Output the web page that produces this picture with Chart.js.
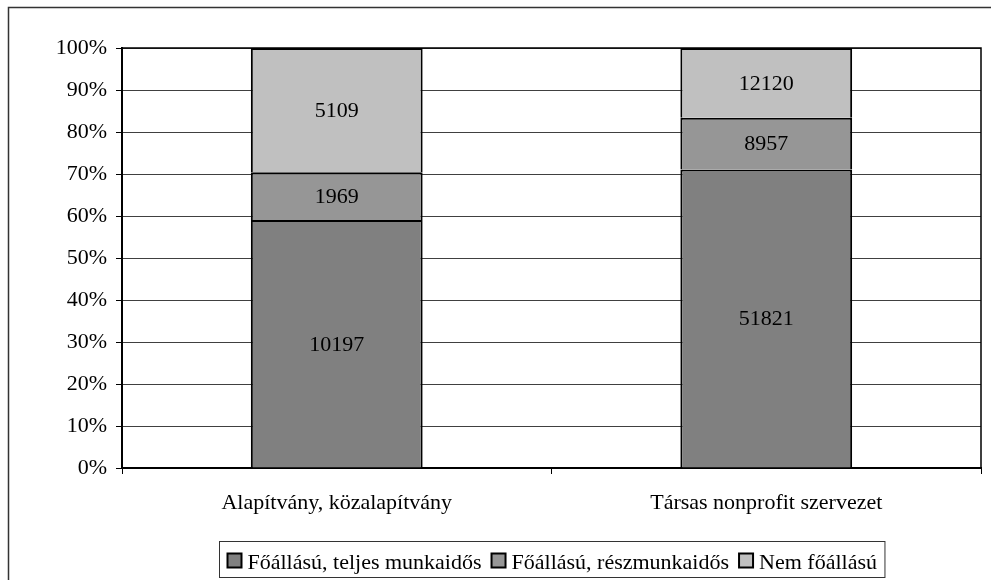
<!DOCTYPE html>
<html>
<head>
<meta charset="utf-8">
<script src="https://cdn.jsdelivr.net/npm/chart.js@4.4.1/dist/chart.umd.min.js"></script>
<style>
  html, body { margin: 0; padding: 0; background: #fff; }
  #wrap { width: 991px; height: 580px; }
</style>
</head>
<body>
<div id="wrap"><canvas id="c" width="991" height="580"></canvas></div>
<script>
const categories = ['Alapítvány, közalapítvány', 'Társas nonprofit szervezet'];
const seriesNames = ['Főállású, teljes munkaidős', 'Főállású, részmunkaidős', 'Nem főállású'];
const fullTime = [10197, 51821];
const partTime = [1969, 8957];
const notMain = [5109, 12120];
const seriesColors = ['#808080', '#969696', '#C0C0C0'];
const yTicks = [0, 10, 20, 30, 40, 50, 60, 70, 80, 90, 100];

const raw = [fullTime, partTime, notMain];
const totals = categories.map((_, i) => raw.reduce((s, arr) => s + arr[i], 0));
const pct = raw.map(arr => arr.map((v, i) => v / totals[i] * 100));

const FONT = '"Liberation Serif", "Times New Roman", serif';
const FS = 22;

const pagePlugin = {
  id: 'page',
  beforeDraw(chart) {
    const ctx = chart.ctx;
    ctx.save();
    ctx.fillStyle = '#fff';
    ctx.fillRect(0, 0, chart.width, chart.height);
    ctx.strokeStyle = '#333';
    ctx.lineWidth = 1.5;
    ctx.strokeRect(8.5, 7.5, 1200, 800);
    ctx.restore();
  },
  afterDatasetsDraw(chart) {
    const ctx = chart.ctx;
    const a = chart.chartArea;
    ctx.save();
    ctx.strokeStyle = '#000';
    ctx.lineWidth = 1.5;
    ctx.beginPath();
    ctx.moveTo(a.left, a.top);
    ctx.lineTo(a.right, a.top);
    ctx.lineTo(a.right, a.bottom);
    ctx.stroke();
    ctx.fillStyle = '#000';
    ctx.font = FS + 'px ' + FONT;
    ctx.textAlign = 'center';
    ctx.textBaseline = 'middle';
    chart.data.datasets.forEach((ds, di) => {
      const meta = chart.getDatasetMeta(di);
      meta.data.forEach((bar, i) => {
        const p = bar.getProps(['x', 'y', 'base'], true);
        ctx.fillText(String(raw[di][i]), p.x, (p.y + p.base) / 2 + 1);
      });
    });
    ctx.font = FS + 'px ' + FONT;
    ctx.textAlign = 'left';
    ctx.textBaseline = 'alphabetic';
    const box = 14, gapBoxText = 6, gapItems = 10, padX = 8;
    const widths = seriesNames.map(n => ctx.measureText(n).width);
    let total = padX * 2;
    widths.forEach((w, i) => { total += box + gapBoxText + w + (i < widths.length - 1 ? gapItems : 0); });
    const cx = (a.left + a.right) / 2;
    const lx = Math.round(cx - total / 2) + 0.5;
    const ly = 541.5, lh = 36;
    ctx.strokeStyle = '#333';
    ctx.lineWidth = 1;
    ctx.strokeRect(lx, ly, total, lh);
    let x = lx + padX;
    const base = ly + 27;
    seriesNames.forEach((n, i) => {
      ctx.fillStyle = seriesColors[i];
      ctx.fillRect(x, ly + 12, box, box);
      ctx.strokeStyle = '#000';
      ctx.lineWidth = 2;
      ctx.strokeRect(x, ly + 12, box, box);
      ctx.fillStyle = '#000';
      ctx.fillText(n, x + box + gapBoxText, base);
      x += box + gapBoxText + widths[i] + gapItems;
    });
    ctx.restore();
  }
};

new Chart(document.getElementById('c'), {
  type: 'bar',
  data: {
    labels: categories,
    datasets: seriesNames.map((name, i) => ({
      label: name,
      data: pct[i],
      backgroundColor: seriesColors[i],
      borderColor: '#000',
      borderWidth: 2,
      borderSkipped: 'start',
      barPercentage: 0.4,
      categoryPercentage: 1.0
    }))
  },
  options: {
    responsive: false,
    devicePixelRatio: 1,
    animation: false,
    layout: { padding: { left: 0, top: 48, right: 10, bottom: 52 } },
    plugins: { legend: { display: false }, tooltip: { enabled: false } },
    scales: {
      x: {
        stacked: true,
        grid: { display: true, offset: true, drawOnChartArea: false, drawTicks: true, tickLength: 6, tickColor: '#000', lineWidth: 1 },
        border: { display: true, color: '#000', width: 2 },
        ticks: { color: '#000', font: { family: FONT, size: FS }, padding: 16, maxRotation: 0 },
        afterFit(s) { s.height = 60; }
      },
      y: {
        stacked: true,
        min: 0, max: 100,
        afterBuildTicks(s) { s.ticks = yTicks.map(v => ({ value: v })); },
        grid: { color: '#404040', lineWidth: 1, drawTicks: true, tickLength: 6, tickColor: '#000' },
        border: { display: true, color: '#000', width: 2 },
        ticks: { color: '#000', font: { family: FONT, size: FS }, padding: 9, callback: v => v + '%' },
        afterFit(s) { s.width = 122; }
      }
    }
  },
  plugins: [pagePlugin]
});
</script>
</body>
</html>
